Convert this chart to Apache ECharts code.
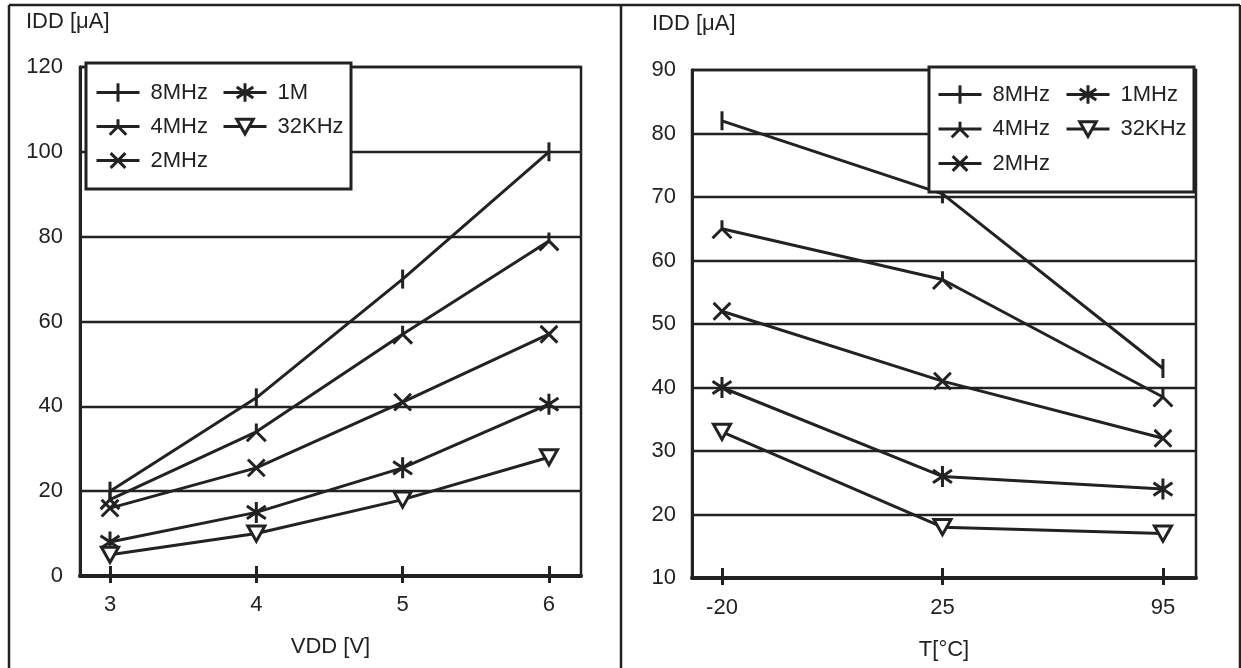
<!DOCTYPE html>
<html>
<head>
<meta charset="utf-8">
<script src="https://cdn.jsdelivr.net/npm/echarts@6/dist/echarts.min.js"></script>
<style>
html,body{margin:0;padding:0;background:#fff;}
#chart{width:1241px;height:668px;}
</style>
</head>
<body>
<div id="chart"></div>
<script>
// ---- data ----
const vddValues = [3, 4, 5, 6];
const tempLabels = ['-20', '25', '95'];
const yTicksLeft = [0, 20, 40, 60, 80, 100, 120];
const yTicksRight = [10, 20, 30, 40, 50, 60, 70, 80, 90];

const leftNames = ['8MHz', '4MHz', '2MHz', '1M', '32KHz'];
const left8MHz  = [20, 42, 70, 100];
const left4MHz  = [18, 34, 57, 79];
const left2MHz  = [16, 25.5, 41, 57];
const left1M    = [8, 15, 25.5, 40.5];
const left32KHz = [5, 10, 18, 28];

const rightNames = ['8MHz', '4MHz', '2MHz', '1MHz', '32KHz'];
const right8MHz  = [82, 70.5, 43];
const right4MHz  = [65, 57, 38.5];
const right2MHz  = [52, 41, 32];
const right1MHz  = [40, 26, 24];
const right32KHz = [33, 18, 17];

const leftXLabel = 'VDD [V]';
const rightXLabel = 'T[°C]';
const yLabel = 'IDD [μA]';

// ---- styles ----
const INK = '#222';
const FONT = 'Liberation Sans, Arial, Helvetica, sans-serif';
const FS = 22;
const SYM = [
  'path://M10,0 L10,20 M0,10 L0,10 M20,10 L20,10',                                 // 8MHz: bar
  'path://M10,2 L10,10 M10,10 L1,19 M10,10 L19,19 M0,0 L0,0 M20,20 L20,20',         // 4MHz: inverted Y
  'path://M2,2 L18,18 M18,2 L2,18 M0,0 L0,0 M20,20 L20,20',                         // 2MHz: X
  'path://M1,4 L19,16 M19,4 L1,16 M10,0 L10,20 M0,0 L0,0 M20,20 L20,20',            // 1MHz: asterisk
  'path://M1,2 L19,2 L10,18 Z M0,0 L0,0 M20,20 L20,20'                              // 32KHz: down triangle
];
const SYMSIZE = [19, 21, 21, 21, 19];
const LW = 3;

function mkSeries(name, idx, data, xi, yi) {
  return {
    type: 'line', name: name, xAxisIndex: xi, yAxisIndex: yi,
    data: data, symbol: SYM[idx], symbolSize: SYMSIZE[idx], showAllSymbol: true,
    lineStyle: { color: INK, width: LW },
    itemStyle: { color: '#fff', borderColor: INK, borderWidth: LW },
    emphasis: { disabled: true },
    z: 2
  };
}

const leftSets = [left8MHz, left4MHz, left2MHz, left1M, left32KHz];
const rightSets = [right8MHz, right4MHz, right2MHz, right1MHz, right32KHz];

const series = [];
leftSets.forEach((arr, i) => series.push(mkSeries(leftNames[i], i, arr.map((v, j) => [vddValues[j], v]), 0, 0)));
rightSets.forEach((arr, i) => series.push(mkSeries(rightNames[i], i, arr.map((v, j) => [j, v]), 2, 1)));

function legendItem(name) {
  return { name: name, itemStyle: { color: '#fff', borderColor: INK, borderWidth: LW }, lineStyle: { color: INK, width: LW } };
}
function mkLegend(names, left, top, gap) {
  return {
    orient: 'vertical', left: left, top: top, padding: 0,
    itemWidth: 43, itemHeight: 23, itemGap: gap, selectedMode: false, z: 10,
    textStyle: { fontSize: FS, color: INK, fontFamily: FONT, padding: [0, 0, 0, 6] },
    data: names.map(legendItem)
  };
}

const axisLabelStyle = { fontSize: FS, color: INK, fontFamily: FONT };

const option = {
  animation: false,
  backgroundColor: '#fff',
  grid: [
    { left: 80, right: 1241 - 581, top: 67, bottom: 668 - 576, show: true, borderColor: INK, borderWidth: 2.5 },
    { left: 692, right: 1241 - 1196, top: 70, bottom: 668 - 578, show: true, borderColor: INK, borderWidth: 2.5 }
  ],
  xAxis: [
    { type: 'value', gridIndex: 0, min: 2.795, max: 6.219, position: 'bottom',
      name: leftXLabel, nameLocation: 'middle', nameGap: 60, nameTextStyle: axisLabelStyle,
      axisLine: { show: true, onZero: false, lineStyle: { color: INK, width: 4 } },
      axisTick: { show: true, customValues: vddValues, length: 7, lineStyle: { color: INK, width: 3 } },
      axisLabel: { customValues: vddValues, margin: 18, ...axisLabelStyle },
      splitLine: { show: false } },
    { type: 'value', gridIndex: 0, min: 2.795, max: 6.219, position: 'bottom', offset: 0,
      axisLine: { show: false }, axisLabel: { show: false },
      axisTick: { show: true, inside: true, customValues: vddValues, length: 10, lineStyle: { color: INK, width: 3 } },
      splitLine: { show: false } },
    { type: 'value', gridIndex: 1, min: -0.136, max: 2.15, position: 'bottom',
      name: rightXLabel, nameLocation: 'middle', nameGap: 61, nameTextStyle: axisLabelStyle,
      axisLine: { show: true, onZero: false, lineStyle: { color: INK, width: 4 } },
      axisTick: { show: true, customValues: [0, 1, 2], length: 7, lineStyle: { color: INK, width: 3 } },
      axisLabel: { customValues: [0, 1, 2], margin: 19, formatter: v => tempLabels[Math.round(v)], ...axisLabelStyle },
      splitLine: { show: false } },
    { type: 'value', gridIndex: 1, min: -0.136, max: 2.15, position: 'bottom', offset: 0,
      axisLine: { show: false }, axisLabel: { show: false },
      axisTick: { show: true, inside: true, customValues: [0, 1, 2], length: 10, lineStyle: { color: INK, width: 3 } },
      splitLine: { show: false } }
  ],
  yAxis: [
    { type: 'value', gridIndex: 0, min: 0, max: 120, interval: 20,
      axisLine: { show: true, onZero: false, lineStyle: { color: INK, width: 3 } },
      axisTick: { show: false },
      axisLabel: { margin: 17, customValues: yTicksLeft, ...axisLabelStyle },
      splitLine: { show: true, lineStyle: { color: INK, width: 2.4 } } },
    { type: 'value', gridIndex: 1, min: 10, max: 90, interval: 10,
      axisLine: { show: true, onZero: false, lineStyle: { color: INK, width: 3 } },
      axisTick: { show: false },
      axisLabel: { margin: 16, customValues: yTicksRight, ...axisLabelStyle },
      splitLine: { show: true, lineStyle: { color: INK, width: 2.4 } } }
  ],
  legend: [
    mkLegend(['8MHz', '4MHz', '2MHz'], 95, 81.5, 12),
    mkLegend(['1M', '32KHz'], 222, 81.5, 12),
    mkLegend(['8MHz', '4MHz', '2MHz'], 937, 83.5, 12.5),
    mkLegend(['1MHz', '32KHz'], 1065, 83.5, 12.5)
  ],
  graphic: [
    // outer frame
    { type: 'line', z: 1, shape: { x1: 9, y1: 5, x2: 1240, y2: 5 }, style: { stroke: INK, lineWidth: 2.5 } },
    { type: 'line', z: 1, shape: { x1: 9, y1: 5, x2: 9, y2: 668 }, style: { stroke: INK, lineWidth: 2.5 } },
    { type: 'line', z: 1, shape: { x1: 1240, y1: 5, x2: 1240, y2: 668 }, style: { stroke: INK, lineWidth: 2.5 } },
    { type: 'line', z: 1, shape: { x1: 621, y1: 5, x2: 621, y2: 668 }, style: { stroke: INK, lineWidth: 2.5 } },
    // legend boxes
    { type: 'rect', z: 3, shape: { x: 86, y: 63, width: 265, height: 126 }, style: { fill: '#fff', stroke: INK, lineWidth: 3 } },
    { type: 'rect', z: 3, shape: { x: 929, y: 67, width: 265, height: 125 }, style: { fill: '#fff', stroke: INK, lineWidth: 3 } },
    // y axis titles
    { type: 'text', z: 5, x: 26, y: 11, style: { text: yLabel, fontSize: FS, fontFamily: FONT, fill: INK } },
    { type: 'text', z: 5, x: 652, y: 13, style: { text: yLabel, fontSize: FS, fontFamily: FONT, fill: INK } }
  ],
  series: series
};

const chart = echarts.init(document.getElementById('chart'), null, { renderer: 'canvas' });
chart.setOption(option);
</script>
</body>
</html>
